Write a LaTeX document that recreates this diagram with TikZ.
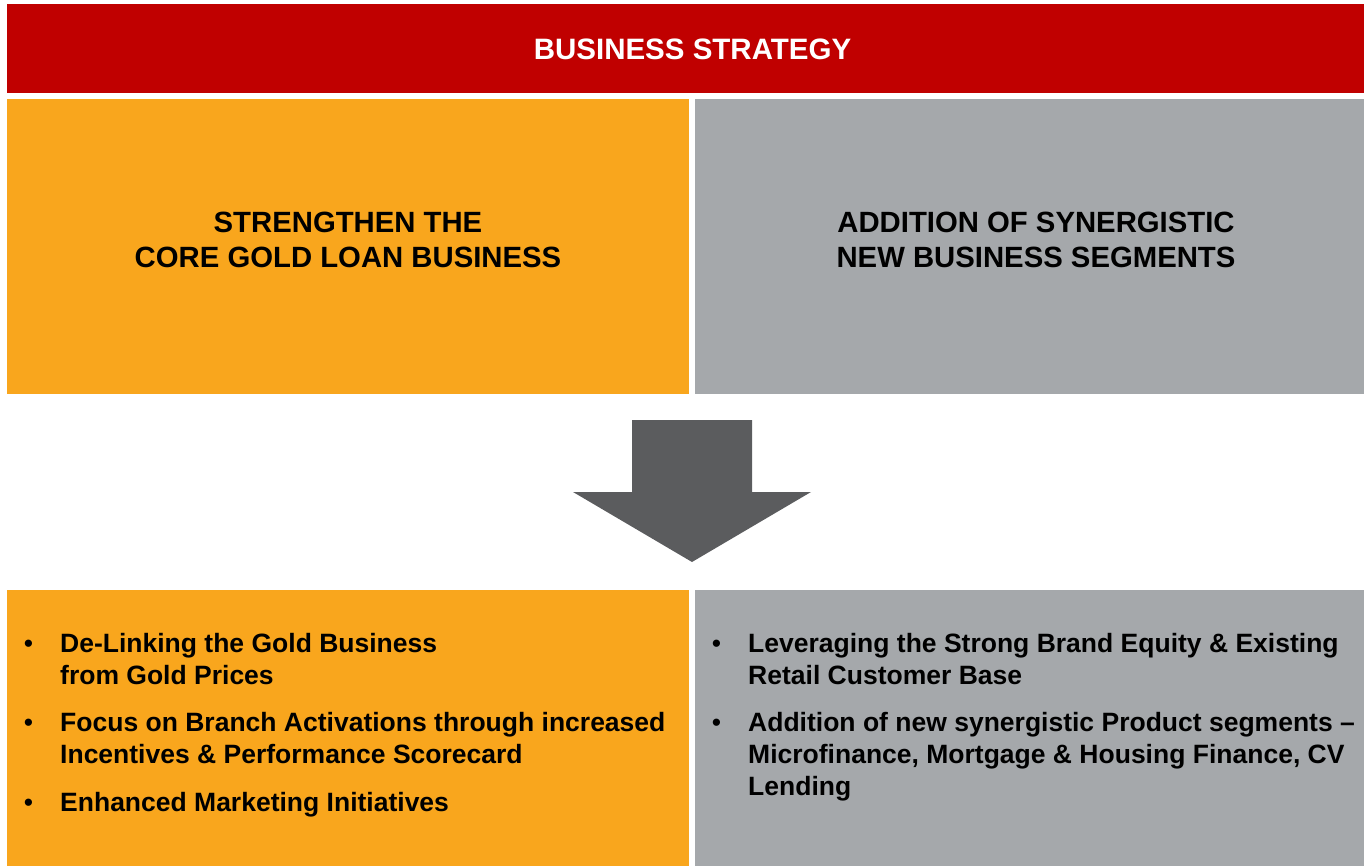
\documentclass[tikz,border=0pt]{standalone}
\usepackage{fontspec}
\setmainfont{Liberation Sans}
\definecolor{bannerred}{HTML}{C00000}
\definecolor{panelorange}{HTML}{F9A61D}
\definecolor{panelgray}{HTML}{A5A8AB}
\definecolor{arrowgray}{HTML}{5B5C5E}
\begin{document}
\begin{tikzpicture}[x=1pt,y=-1pt,
  panel/.style={draw=none,inner sep=0pt,outer sep=0pt,anchor=north west},
  head/.style={font=\fontsize{29.3}{35}\selectfont\bfseries,align=center,inner sep=0pt},
  item/.style={font=\fontsize{26.5}{32}\selectfont\bfseries,anchor=base west,align=left,inner sep=0pt},
  dot/.style={font=\fontsize{26.5}{32}\selectfont,anchor=base,inner sep=0pt}]
\useasboundingbox (0,0) rectangle (1364,866);
% panels
\node[panel,fill=bannerred,minimum width=1357pt,minimum height=89pt] (banner) at (7,4) {};
\node[panel,fill=panelorange,minimum width=682pt,minimum height=295pt] (topL) at (7,99) {};
\node[panel,fill=panelgray,minimum width=669pt,minimum height=295pt] (topR) at (695,99) {};
\node[panel,fill=panelorange,minimum width=682pt,minimum height=276pt] (botL) at (7,590) {};
\node[panel,fill=panelgray,minimum width=669pt,minimum height=276pt] (botR) at (695,590) {};
% titles
\node[head,font=\fontsize{29.5}{35}\selectfont\bfseries,text=white,anchor=base] (title) at (692.5,59.5) {BUSINESS STRATEGY};
\node[head,anchor=center] (hL) at (348,240) {STRENGTHEN THE\\CORE GOLD LOAN BUSINESS};
\node[head,anchor=center] (hR) at (1036,240) {ADDITION OF SYNERGISTIC\\NEW BUSINESS SEGMENTS};
% arrow
\fill[arrowgray] (632,420) -- (752,420) -- (752,492) -- (811,492) -- (692,562) -- (573,492) -- (632,492) -- cycle;
% left bullets (anchor = baseline of last line)
\node[dot] (dL1) at (28.5,652) {•};
\node[item] (iL1) at (60,684) {De-Linking the Gold Business\\from Gold Prices};
\node[dot] (dL2) at (28.5,731) {•};
\node[item] (iL2) at (60,763) {Focus on Branch Activations through increased\\Incentives \& Performance Scorecard};
\node[dot] (dL3) at (28.5,811) {•};
\node[item] (iL3) at (60,811) {Enhanced Marketing Initiatives};
% right bullets
\node[dot] (dR1) at (716.5,652) {•};
\node[item] (iR1) at (748,684) {Leveraging the Strong Brand Equity \& Existing\\Retail Customer Base};
\node[dot] (dR2) at (716.5,731) {•};
\node[item] (iR2) at (748,795) {Addition of new synergistic Product segments –\\Microfinance, Mortgage \& Housing Finance, CV\\Lending};
\end{tikzpicture}
\end{document}
